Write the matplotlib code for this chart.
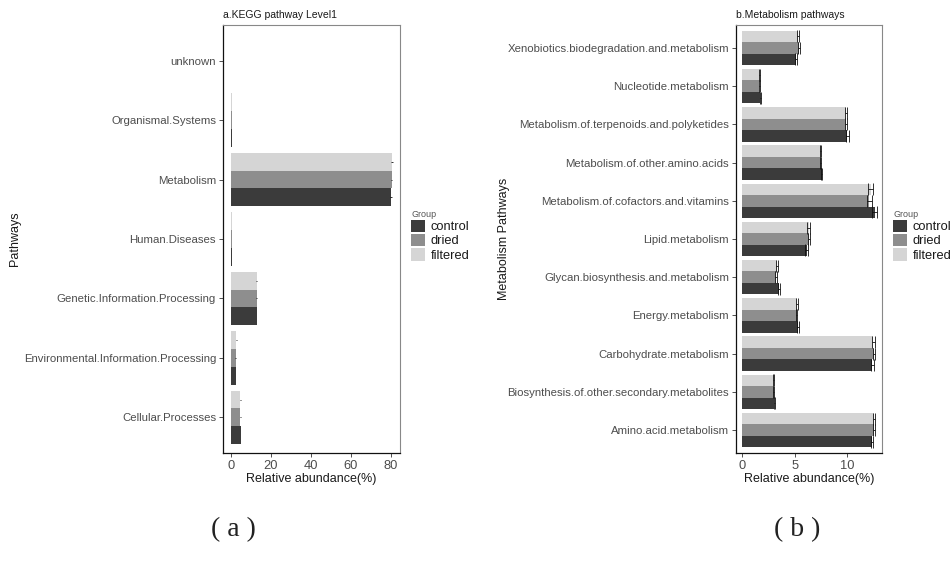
import matplotlib
matplotlib.use("Agg")
import matplotlib.pyplot as plt
import numpy as np
from matplotlib.patches import Patch

plt.rcParams['font.family'] = ['Liberation Sans', 'DejaVu Sans']

groups = ["control", "dried", "filtered"]
colors = ["#3b3b3b", "#8e8e8e", "#d5d5d5"]

# Panel a
cats_a = ["Cellular.Processes", "Environmental.Information.Processing",
          "Genetic.Information.Processing", "Human.Diseases", "Metabolism",
          "Organismal.Systems", "unknown"]
control_a = [5.0, 2.5, 13.0, 0.3, 80.0, 0.6, 0.1]
dried_a = [4.6, 2.3, 12.8, 0.3, 80.4, 0.6, 0.1]
filtered_a = [4.6, 2.6, 12.8, 0.3, 80.5, 0.5, 0.1]
err_a = [0.2, 0.15, 0.2, 0.03, 0.3, 0.03, 0.01]

# Panel b
cats_b = ["Amino.acid.metabolism", "Biosynthesis.of.other.secondary.metabolites",
          "Carbohydrate.metabolism", "Energy.metabolism",
          "Glycan.biosynthesis.and.metabolism", "Lipid.metabolism",
          "Metabolism.of.cofactors.and.vitamins", "Metabolism.of.other.amino.acids",
          "Metabolism.of.terpenoids.and.polyketides", "Nucleotide.metabolism",
          "Xenobiotics.biodegradation.and.metabolism"]
control_b = [12.38, 3.02, 12.41, 5.33, 3.49, 6.13, 12.63, 7.56, 10.03, 1.71, 5.08]
dried_b = [12.57, 2.98, 12.57, 5.17, 3.20, 6.35, 12.13, 7.49, 9.87, 1.59, 5.43]
filtered_b = [12.57, 2.98, 12.50, 5.20, 3.30, 6.32, 12.25, 7.49, 9.87, 1.62, 5.33]
err_b = [0.1, 0.05, 0.12, 0.08, 0.1, 0.12, 0.25, 0.05, 0.1, 0.05, 0.1]

W, H = 951, 561
fig = plt.figure(figsize=(W / 100, H / 100), dpi=100)

def px_axes(l, t, r, b):
    return fig.add_axes([l / W, 1 - b / H, (r - l) / W, (b - t) / H])

def draw(ax, cats, series, err, xlim, xticks, ylabel, title, caplen):
    y = np.arange(len(cats))
    bw = 0.3
    offs = [-bw, 0, bw]
    for s, off, c in zip(series, offs, colors):
        ax.barh(y + off, s, height=bw, color=c, edgecolor='none', zorder=2)
        ax.errorbar(s, y + off, xerr=err, fmt='none', ecolor='#111111',
                    elinewidth=0.6, capsize=caplen, capthick=0.6, zorder=3)
    ax.set_xlim(*xlim)
    ax.set_ylim(-0.6, len(cats) - 0.4)
    ax.set_yticks(y)
    ax.set_yticklabels(cats)
    ax.set_xticks(xticks)
    ax.tick_params(axis='both', length=3, width=0.6, color='#333333',
                   labelsize=8.2, labelcolor='#4d4d4d', pad=2)
    ax.tick_params(axis='x', labelsize=9.3)
    ax.set_xlabel("Relative abundance(%)", fontsize=9, color='#1a1a1a', labelpad=1)
    ax.set_ylabel(ylabel, fontsize=9, color='#1a1a1a')
    ax.set_title(title, fontsize=7.5, loc='left', color='#1a1a1a', pad=5)
    for side in ['top', 'right']:
        ax.spines[side].set_color('#888888')
        ax.spines[side].set_linewidth(0.8)
    for side in ['left', 'bottom']:
        ax.spines[side].set_color('#111111')
        ax.spines[side].set_linewidth(0.9)

ax1 = px_axes(223, 25, 400, 453)
draw(ax1, cats_a, [control_a, dried_a, filtered_a], err_a, (-4.0, 84.5),
     [0, 20, 40, 60, 80], "Pathways", "a.KEGG pathway Level1", 0)
ax1.yaxis.set_label_coords(-1.14, 0.5)

ax2 = px_axes(736, 25, 882, 453)
draw(ax2, cats_b, [control_b, dried_b, filtered_b], err_b, (-0.62, 13.33),
     [0, 5, 10], "Metabolism Pathways", "b.Metabolism pathways", 4)
ax2.yaxis.set_label_coords(-1.55, 0.5)

handles = [Patch(facecolor=c, edgecolor='none') for c in colors]

def add_legend(x, y):
    leg = fig.legend(handles, groups, loc='upper left',
                     bbox_to_anchor=(x / W, 1 - y / H), frameon=False,
                     fontsize=9.3, title="Group", title_fontsize=6.5,
                     handlelength=1.1, handleheight=1.1, handletextpad=0.4,
                     labelspacing=0.05, borderpad=0, borderaxespad=0)
    leg._legend_box.align = "left"
    for t in leg.get_texts():
        t.set_color('#1a1a1a')
    leg.get_title().set_color('#555555')

add_legend(411, 210)
add_legend(893, 210)

fig.text(233 / W, 1 - 530 / H, "( a )", fontsize=20, family='Liberation Serif',
         ha='center', va='center', color='#222222')
fig.text(797 / W, 1 - 530 / H, "( b )", fontsize=20, family='Liberation Serif',
         ha='center', va='center', color='#222222')

fig.savefig("out.png", dpi=100)
